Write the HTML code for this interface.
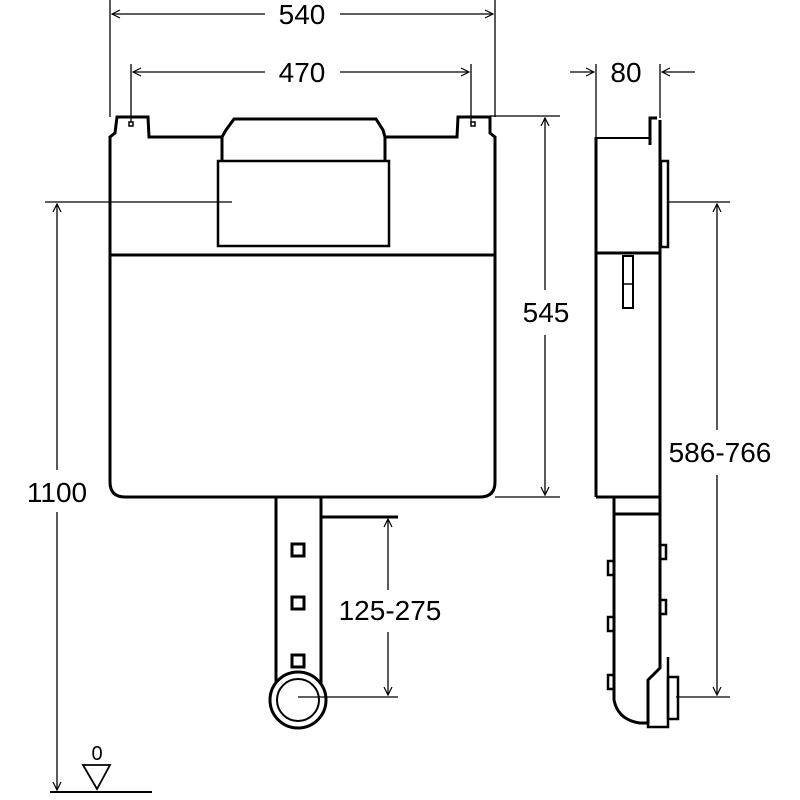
<!DOCTYPE html>
<html><head><style>body{margin:0;background:#fff}svg{display:block}text{font-family:"Liberation Sans",sans-serif;font-size:28px;fill:#000}</style></head><body>
<svg width="800" height="800" viewBox="0 0 800 800" xmlns="http://www.w3.org/2000/svg">
<defs><marker id="a" markerWidth="10" markerHeight="10" refX="9" refY="5" orient="auto" markerUnits="userSpaceOnUse"><path d="M1,1 L9,5 L1,9" fill="none" stroke="#000" stroke-width="1.2"/></marker></defs>
<g fill="none" stroke="#000">
<path d="M110,137 L110,482 Q110,497 125,497 L480,497 Q495,497 495,482 L495,137 L490,133 L490,117 L458,117 L457,137 L385,137 L383,130 L376,119 L234,119 L226,130 L222,137 L149,137 L148,117 L117,117 L115,133 Z" stroke-width="3"/>
<line x1="222" y1="137" x2="222" y2="160" stroke-width="3"/><line x1="385" y1="137" x2="385" y2="160" stroke-width="3"/>
<rect x="218" y="161" width="171" height="85" stroke-width="2.5"/>
<line x1="110" y1="255" x2="495" y2="255" stroke-width="3"/>
<rect x="129" y="122" width="4" height="4" stroke-width="1.5"/><rect x="471" y="122" width="4" height="4" stroke-width="1.5"/>
<path d="M276,497 L276,690 M321,497 L321,690" stroke-width="3"/>
<line x1="321" y1="517" x2="398" y2="517" stroke-width="3"/>
<rect x="292" y="544" width="12" height="12" stroke-width="3"/>
<rect x="292" y="597" width="12" height="12" stroke-width="3"/>
<rect x="292" y="655" width="12" height="12" stroke-width="3"/>
<circle cx="298" cy="700" r="28" stroke-width="3" fill="#fff"/>
<circle cx="298" cy="700" r="21" stroke-width="2"/>
<g stroke-width="1.3">
<line x1="110" y1="0" x2="110" y2="117"/><line x1="495" y1="0" x2="495" y2="117"/>
<line x1="265" y1="14" x2="112" y2="14" marker-end="url(#a)"/><line x1="340" y1="14" x2="493" y2="14" marker-end="url(#a)"/>
<line x1="131" y1="64" x2="131" y2="122"/><line x1="471" y1="64" x2="471" y2="122"/>
<line x1="265" y1="72" x2="133" y2="72" marker-end="url(#a)"/><line x1="340" y1="72" x2="469" y2="72" marker-end="url(#a)"/>
<line x1="490" y1="116" x2="560" y2="116"/><line x1="495" y1="497" x2="560" y2="497"/>
<line x1="545" y1="290" x2="545" y2="118" marker-end="url(#a)"/><line x1="545" y1="335" x2="545" y2="495" marker-end="url(#a)"/>
<line x1="45" y1="202" x2="232" y2="202"/>
<line x1="57" y1="470" x2="57" y2="204" marker-end="url(#a)"/><line x1="57" y1="512" x2="57" y2="790" marker-end="url(#a)"/>
<line x1="50" y1="792" x2="152" y2="792" stroke-width="2"/>
<path d="M83,765 L110,765 L97,789 Z" stroke-width="1.8"/>
<line x1="298" y1="697" x2="398" y2="697"/>
<line x1="388" y1="590" x2="388" y2="519" marker-end="url(#a)"/><line x1="388" y1="632" x2="388" y2="695" marker-end="url(#a)"/>
<line x1="596" y1="64" x2="596" y2="137"/><line x1="660" y1="64" x2="660" y2="118"/>
<line x1="570" y1="72" x2="594" y2="72" marker-end="url(#a)"/><line x1="695" y1="72" x2="662" y2="72" marker-end="url(#a)"/>
<line x1="668" y1="202" x2="730" y2="202"/><line x1="676" y1="697" x2="730" y2="697"/>
<line x1="717" y1="430" x2="717" y2="204" marker-end="url(#a)"/><line x1="717" y1="475" x2="717" y2="695" marker-end="url(#a)"/>
</g>
<path d="M596,137 L596,497 M660,120 L660,497" stroke-width="3"/>
<line x1="596" y1="138" x2="650" y2="138" stroke-width="2"/>
<path d="M650,145 L650,118 L657,118" stroke-width="3"/>
<rect x="661" y="161" width="7" height="86" stroke-width="2.5"/>
<line x1="596" y1="253" x2="660" y2="253" stroke-width="3"/>
<rect x="623" y="256" width="10" height="52" stroke-width="2"/><line x1="623" y1="284" x2="633" y2="284" stroke-width="1.5"/>
<line x1="596" y1="497" x2="660" y2="497" stroke-width="3"/>
<path d="M614,497 L614,700 Q618,720 640,723 L648,723 L648,680 L660,668 L660,497" stroke-width="3"/>
<line x1="614" y1="514" x2="660" y2="514" stroke-width="3"/>
<path d="M648,680 L648,727 L668,727 L668,657" stroke-width="2.5"/>
<rect x="668" y="677" width="10" height="42" stroke-width="2.5"/>
<rect x="660" y="545" width="6" height="14" stroke-width="2.5"/><rect x="660" y="600" width="6" height="14" stroke-width="2.5"/>
<rect x="608" y="561" width="6" height="14" stroke-width="2.5"/><rect x="608" y="617" width="6" height="14" stroke-width="2.5"/><rect x="608" y="675" width="6" height="14" stroke-width="2.5"/>
</g>
<text x="302" y="24" text-anchor="middle">540</text>
<text x="302" y="82" text-anchor="middle">470</text>
<text x="546" y="322" text-anchor="middle">545</text>
<text x="57" y="502" text-anchor="middle">1100</text>
<text x="390" y="620" text-anchor="middle">125-275</text>
<text x="626" y="82" text-anchor="middle">80</text>
<text x="720" y="462" text-anchor="middle">586-766</text>
<text x="97" y="760" text-anchor="middle" style="font-size:20px">0</text>
</svg>
</body></html>
